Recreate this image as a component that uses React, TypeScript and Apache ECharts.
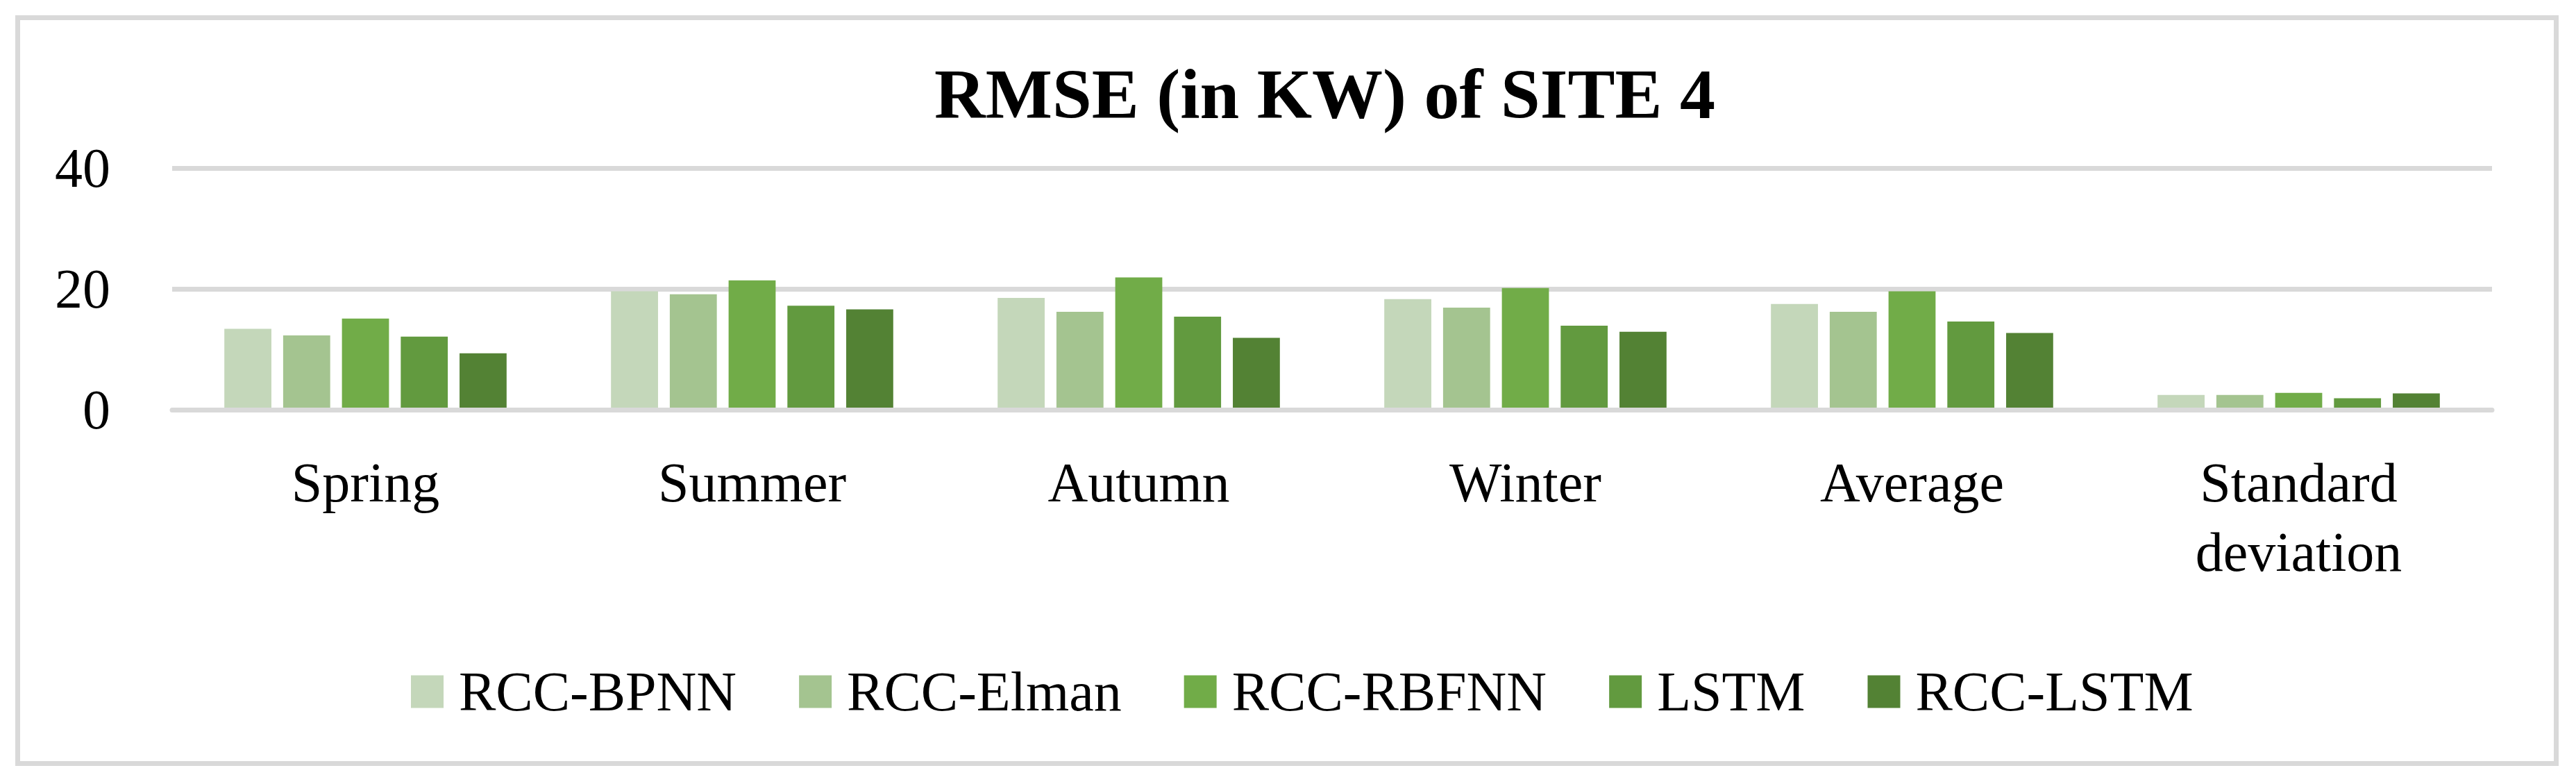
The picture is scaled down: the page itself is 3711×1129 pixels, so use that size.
import React, { useEffect, useRef } from "react";
import * as echarts from "echarts";

const categories = ["Spring", "Summer", "Autumn", "Winter", "Average", "Standard deviation"];
const seriesNames = ["RCC-BPNN", "RCC-Elman", "RCC-RBFNN", "LSTM", "RCC-LSTM"];
const rccBpnn = [13.4, 19.6, 18.5, 18.3, 17.5, 2.45];
const rccElman = [12.3, 19.1, 16.2, 16.9, 16.2, 2.45];
const rccRbfnn = [15.1, 21.4, 21.9, 20.15, 19.6, 2.8];
const lstm = [12.1, 17.2, 15.4, 13.9, 14.6, 1.9];
const rccLstm = [9.35, 16.6, 11.9, 12.9, 12.7, 2.7];
const seriesValues = [rccBpnn, rccElman, rccRbfnn, lstm, rccLstm];
const colors = ["#C4D7BA", "#A4C490", "#71AC48", "#629A3F", "#538234"];
const yTicks = { min: 0, max: 40, interval: 20 };

const FONT = "'Liberation Serif', 'Times New Roman', serif";

export default function App() {
  const ref = useRef<HTMLDivElement>(null);
  useEffect(() => {
    document.body.style.margin = "0";
    if (!ref.current) return;
    const chart = echarts.init(ref.current, null, { renderer: "svg" });
    chart.setOption({
      animation: false,
      backgroundColor: "#ffffff",
      textStyle: { fontFamily: FONT, color: "#000" },
      title: {
        text: "RMSE (in KW) of SITE 4",
        left: 1346,
        top: 84,
        padding: 0,
        textStyle: { fontFamily: FONT, fontWeight: "bold", fontSize: 102, color: "#000" },
      },
      graphic: [
        {
          type: "rect",
          shape: { x: 25.5, y: 25.5, width: 3657, height: 1074 },
          style: { fill: "none", stroke: "#D9D9D9", lineWidth: 7 },
          silent: true,
        },
      ],
      legend: {
        data: seriesNames,
        left: 587,
        top: 951,
        itemWidth: 47,
        itemHeight: 47,
        itemGap: 90,
        icon: "rect",
        textStyle: { fontFamily: FONT, fontSize: 80, color: "#000", padding: [0, 0, 0, 17] },
      },
      grid: { left: 248, right: 121, top: 242, height: 348 },
      xAxis: {
        type: "category",
        data: categories,
        z: 5,
        axisLine: { show: true, lineStyle: { color: "#D9D9D9", width: 7 } },
        axisTick: { show: false },
        axisLabel: {
          fontFamily: FONT,
          fontSize: 80,
          color: "#000",
          margin: 55,
          lineHeight: 100,
          interval: 0,
          formatter: (v: string) => v.replace(" ", "\n"),
        },
      },
      yAxis: {
        type: "value",
        min: yTicks.min,
        max: yTicks.max,
        interval: yTicks.interval,
        axisLine: { show: false },
        axisTick: { show: false },
        splitLine: { lineStyle: { color: "#D9D9D9", width: 7 } },
        axisLabel: { fontFamily: FONT, fontSize: 80, color: "#000", margin: 89 },
      },
      series: seriesNames.map((name, i) => ({
        name,
        type: "bar",
        data: seriesValues[i],
        barGap: "25%",
        barCategoryGap: "27%",
        itemStyle: { color: colors[i] },
      })),
    });
    return () => chart.dispose();
  }, []);
  return <div ref={ref} style={{ width: 3711, height: 1129 }} />;
}
